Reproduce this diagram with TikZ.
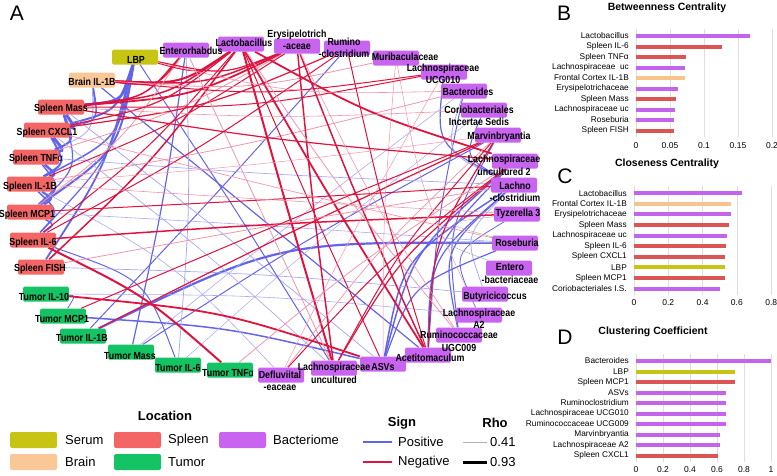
\documentclass[tikz,border=0pt]{standalone}
\usepackage{fontspec}
\setmainfont{Liberation Sans}
\newfontfamily\netfont[FakeStretch=0.86]{Liberation Sans}
\usetikzlibrary{calc,backgrounds}
\definecolor{serum}{RGB}{200,196,20}
\definecolor{brain}{RGB}{250,200,150}
\definecolor{spleen}{RGB}{244,102,102}
\definecolor{bacterio}{RGB}{200,100,240}
\definecolor{tumor}{RGB}{20,196,100}
\definecolor{posblue}{RGB}{100,100,235}
\definecolor{negred}{RGB}{222,20,64}
\definecolor{barred}{RGB}{220,85,85}
\definecolor{barpurple}{RGB}{196,100,236}
\definecolor{barpeach}{RGB}{248,196,140}
\definecolor{gridgray}{RGB}{222,222,222}
\begin{document}
\begin{tikzpicture}[
  x=1pt, y=-1pt,
  box/.style={rectangle, rounded corners=1.5pt, minimum width=46,
    minimum height=15, inner sep=0pt},
  lbl/.style={font={\netfont\bfseries\fontsize{10.3}{12.5}\selectfont},
    inner sep=0pt, align=center},
  poslink/.style={draw=posblue},
  neglink/.style={draw=negred},
  faintpos/.style={draw=posblue!55},
  faintneg/.style={draw=negred!45},
  greylink/.style={draw=black!30},
  barlab/.style={font={\fontsize{8.3}{10}\selectfont}, inner sep=0pt, anchor=east},
  ticklab/.style={font={\fontsize{8.5}{10}\selectfont}, inner sep=0pt},
  bartitle/.style={font={\bfseries\fontsize{10.5}{12}\selectfont}, inner sep=0pt},
  panelletter/.style={font={\fontsize{21}{24}\selectfont}, inner sep=0pt},
  hbar/.style={line width=4},
  gridrule/.style={draw=gridgray, line width=0.6},
  legtitle/.style={font={\bfseries\fontsize{13}{15}\selectfont}, inner sep=0pt},
  legtext/.style={font={\fontsize{13}{15}\selectfont}, inner sep=0pt, anchor=west},
  swatch/.style={rectangle, rounded corners=2pt, minimum width=47,
    minimum height=16, inner sep=0pt}
]
  \useasboundingbox (0,0) rectangle (777,475);
  \coordinate (ctr) at (265,210);
  % Panel letters
  \node[panelletter] at (17,13) {A};
  \node[panelletter] at (564,13) {B};
  \node[panelletter] at (565,176) {C};
  \node[panelletter] at (565,337) {D};

  % Network boxes
  \node[box, fill=serum] (lbp) at (135,57) {};
  \node[box, fill=brain] (brain) at (92,80) {};
  \node[box, fill=spleen] (smass) at (61,107) {};
  \node[box, fill=spleen] (scxcl) at (47,130) {};
  \node[box, fill=spleen] (stnf) at (36,157) {};
  \node[box, fill=spleen] (sil1b) at (30,184) {};
  \node[box, fill=spleen] (smcp) at (30,212) {};
  \node[box, fill=spleen] (sil6) at (33,240) {};
  \node[box, fill=spleen] (sfish) at (41,267) {};
  \node[box, fill=tumor] (til10) at (46,294) {};
  \node[box, fill=tumor] (tmcp) at (63,316) {};
  \node[box, fill=tumor] (til1b) at (83,336) {};
  \node[box, fill=tumor] (tmass) at (131,352) {};
  \node[box, fill=tumor] (til6) at (178,365) {};
  \node[box, fill=tumor] (ttnf) at (230,370) {};
  \node[box, fill=bacterio] (defl) at (281,375) {};
  \node[box, fill=bacterio] (lachunc) at (334,368) {};
  \node[box, fill=bacterio] (asvs) at (383,364) {};
  \node[box, fill=bacterio] (acet) at (428,355) {};
  \node[box, fill=bacterio] (rum009) at (459,335) {};
  \node[box, fill=bacterio] (lacha2) at (479,315) {};
  \node[box, fill=bacterio] (buty) at (485,294) {};
  \node[box, fill=bacterio] (entero) at (509,268) {};
  \node[box, fill=bacterio] (roseb) at (515,243) {};
  \node[box, fill=bacterio] (tyz) at (517,214) {};
  \node[box, fill=bacterio] (lachclos) at (514,185) {};
  \node[box, fill=bacterio] (lachunc2) at (515,161) {};
  \node[box, fill=bacterio] (marv) at (498,135) {};
  \node[box, fill=bacterio] (corio) at (484,110) {};
  \node[box, fill=bacterio] (bact) at (464,91) {};
  \node[box, fill=bacterio] (lach010) at (444,72) {};
  \node[box, fill=bacterio] (murib) at (396,58) {};
  \node[box, fill=bacterio] (rumclos) at (347,48) {};
  \node[box, fill=bacterio] (erys) at (297,46) {};
  \node[box, fill=bacterio] (lacto) at (241,44) {};
  \node[box, fill=bacterio] (entrh) at (186,50) {};

  % Network labels
  \node[lbl] at (136,60) {LBP};
  \node[lbl] at (92,82) {Brain IL-1B};
  \node[lbl] at (61,109) {Spleen Mass};
  \node[lbl] at (47,133) {Spleen CXCL1};
  \node[lbl] at (36,159) {Spleen TNF{\mdseries α}};
  \node[lbl] at (30,187) {Spleen IL-1B};
  \node[lbl] at (27,215) {Spleen MCP1};
  \node[lbl] at (33,243) {Spleen IL-6};
  \node[lbl] at (40,269) {Spleen FISH};
  \node[lbl] at (44,297) {Tumor IL-10};
  \node[lbl] at (62,319) {Tumor MCP1};
  \node[lbl] at (82,338) {Tumor IL-1B};
  \node[lbl] at (130,356) {Tumor Mass};
  \node[lbl] at (178,368) {Tumor IL-6};
  \node[lbl] at (228,373) {Tumor TNF{\mdseries α}};
  \node[lbl] at (280,381) {Defluviital\\-eaceae};
  \node[lbl] at (334,373.5) {Lachnospiraceae\\uncultured};
  \node[lbl] at (383,367) {ASVs};
  \node[lbl] at (430,358) {Acetitomaculum};
  \node[lbl] at (459,341.5) {Ruminococcaceae\\UGC009};
  \node[lbl] at (479,319) {Lachnospiraceae\\A2};
  \node[lbl] at (495,297) {Butyricicoccus};
  \node[lbl] at (510,273.5) {Entero\\-bacteriaceae};
  \node[lbl] at (517,243) {Roseburia};
  \node[lbl] at (518,214) {Tyzerella 3};
  \node[lbl] at (515,192) {Lachno\\-clostridium};
  \node[lbl] at (504,165.5) {Lachnospiraceae\\uncultured 2};
  \node[lbl] at (499,137) {Marvinbryantia};
  \node[lbl] at (479,116) {Coriobacteriales\\Incertae Sedis};
  \node[lbl] at (468,92) {Bacteroides};
  \node[lbl] at (443,74) {Lachnospiraceae\\UCG010};
  \node[lbl] at (405,57) {Muribaculaceae};
  \node[lbl] at (344,48) {Rumino\\-clostridium};
  \node[lbl] at (297,40) {Erysipelotrich\\-aceae};
  \node[lbl] at (244,43) {Lactobacillus};
  \node[lbl] at (191,51) {Enterorhabdus};

  % Network edges: from/to/sign/width/pull to centre
  \begin{scope}[on background layer]
    \foreach \a/\b/\s/\w/\k in {
      lbp/smass/poslink/2.5/0.15, lbp/scxcl/poslink/2/0.15,
      lbp/sil1b/poslink/1.5/0.2, lbp/smcp/poslink/2/0.2,
      lbp/sfish/poslink/1.8/0.1, lbp/sil6/poslink/1.2/0.15,
      brain/smass/poslink/1.2/0.1, brain/scxcl/poslink/1.5/0.15,
      brain/stnf/faintpos/0.8/0.15, smass/scxcl/poslink/3/0.1,
      scxcl/stnf/poslink/3/0.1, stnf/sil1b/poslink/2.5/0.1,
      sil1b/smcp/poslink/2/0.1, smcp/sil6/poslink/1.5/0.1,
      scxcl/sil1b/poslink/2/0.12, smass/stnf/poslink/2/0.12,
      stnf/smcp/poslink/1.5/0.12, sil1b/sil6/poslink/1.5/0.12,
      sil6/sfish/poslink/1/0.1, smass/smcp/poslink/1.2/0.15,
      til10/tmcp/poslink/0.8/0.1, til6/sil6/poslink/1/0.25,
      tmass/entrh/poslink/1.2/0.05, tmass/marv/poslink/1/0.15,
      tmcp/asvs/poslink/1.5/0.1, roseb/til1b/poslink/2.2/0.6,
      rumclos/til1b/poslink/1/0.05, bact/acet/poslink/1/0.05,
      lachclos/asvs/poslink/1.5/0.25, lachclos/rum009/poslink/1.2/0.2,
      lachunc2/asvs/poslink/1.5/0.2, lachunc2/acet/poslink/1.2/0.2,
      tyz/lacha2/poslink/0.8/0.2, lachclos/acet/poslink/1.2/0.2,
      marv/rum009/poslink/1/0.15, corio/lachclos/poslink/1/0.15,
      lach010/lachclos/poslink/1.2/0.2, bact/lachclos/faintpos/0.8/0.2,
      buty/lachclos/faintpos/0.8/0.15, roseb/asvs/poslink/1.2/0.2,
      brain/acet/poslink/1.2/0.05, smass/asvs/faintpos/0.8/0.05,
      scxcl/lachunc/faintpos/0.7/0.1, stnf/lachclos/faintpos/0.7/0.1,
      smcp/roseb/faintpos/0.6/0.1, sfish/buty/faintpos/0.7/0.1,
      til10/lacha2/faintpos/0.6/0.1, corio/til6/faintpos/0.5/0.1,
      bact/tmass/faintpos/0.6/0.1, sil1b/defl/faintpos/0.6/0.2,
      lbp/lachunc/poslink/1/0.1, entrh/til6/faintpos/0.8/0.1,
      lacto/brain/neglink/2/0.15, lacto/smass/neglink/1.5/0.15,
      lacto/scxcl/neglink/1.2/0.15, lacto/sil6/neglink/1/0.1,
      lacto/sfish/neglink/1.5/0.1, erys/brain/neglink/1.5/0.15,
      erys/smass/neglink/1.8/0.15, erys/stnf/faintneg/0.8/0.1,
      erys/sil1b/neglink/1/0.1, entrh/brain/neglink/1.2/0.15,
      entrh/smass/neglink/1.5/0.15, entrh/smcp/faintneg/0.8/0.1,
      lbp/erys/neglink/1.2/0.15, lbp/lacto/neglink/1/0.15,
      murib/brain/faintneg/0.8/0.15, lach010/smass/neglink/1/0.15,
      bact/sil1b/faintneg/0.8/0.1, lach010/brain/neglink/1/0.15,
      rumclos/sil6/neglink/1/0.1, rumclos/scxcl/neglink/1.2/0.15,
      sil6/ttnf/neglink/2/0.1, til10/asvs/neglink/1.8/0.15,
      til1b/marv/neglink/1.2/0.1, lacto/lachunc/neglink/2/0.05,
      erys/lachunc/neglink/1.5/0.05, lacto/asvs/neglink/1/0.05,
      entrh/lachunc/faintneg/0.8/0.05, erys/acet/neglink/1.5/0.05,
      lacto/acet/neglink/1.8/0.05, lacto/lachunc2/neglink/1.8/0.1,
      defl/lachunc2/neglink/1/0.1, defl/marv/faintneg/0.7/0.1,
      tyz/sil6/neglink/1.5/0.2, lachclos/smcp/neglink/1/0.1,
      marv/acet/neglink/1.2/0.15, marv/lachunc/neglink/1/0.1,
      lachunc2/lachunc/neglink/1.2/0.15, lachunc2/ttnf/faintneg/0.8/0.1,
      scxcl/roseb/faintneg/0.7/0.1, sil1b/tyz/faintneg/0.6/0.1,
      rum009/lacto/faintneg/0.8/0.1, acet/rumclos/neglink/1/0.05,
      murib/asvs/faintneg/0.5/0.05, lach010/defl/faintneg/0.5/0.05,
      corio/smass/faintneg/0.6/0.1, marv/sil1b/faintneg/0.5/0.1,
      smass/lachunc2/neglink/1.2/0.1, sfish/lachclos/faintneg/0.8/0.1,
      tmcp/marv/neglink/1/0.1, rum009/erys/faintneg/0.6/0.1,
      bact/lbp/faintneg/0.6/0.15, murib/lacha2/faintneg/0.5/0.1,
      roseb/tyz/greylink/0.5/0.3, roseb/entero/greylink/0.5/0.3}
      \draw[\s, line width=\w] (\a) .. controls ($(\a)!0.5!(\b)!\k!(ctr)$) .. (\b);
  \end{scope}

  % Legend
  \node[legtitle] at (165,416) {Location};
  \node[swatch, fill=serum] (swserum) at (33.5,440) {};
  \node[legtext] at (65,440) {Serum};
  \node[swatch, fill=spleen] (swspleen) at (137.5,440) {};
  \node[legtext] at (168,440) {Spleen};
  \node[swatch, fill=bacterio] (swbact) at (242.5,440) {};
  \node[legtext] at (273,440) {Bacteriome};
  \node[swatch, fill=brain] (swbrain) at (33.5,462) {};
  \node[legtext] at (65,462) {Brain};
  \node[swatch, fill=tumor] (swtumor) at (137.5,462) {};
  \node[legtext] at (168,462) {Tumor};

  \node[legtitle] at (402,423) {Sign};
  \node[legtext] (postext) at (398,442) {Positive};
  \node[legtext] (negtext) at (398,462) {Negative};
  \coordinate (posend) at (392,442);
  \coordinate (negend) at (392,462);
  \draw[poslink, line width=2.5] (363,442) -- (posend);
  \draw[neglink, line width=2.5] (363,462) -- (negend);

  \node[legtitle] at (495,423) {Rho};
  \node[legtext] (lotext) at (490,442) {0.41};
  \node[legtext] (hitext) at (490,462) {0.93};
  \coordinate (loend) at (487,442);
  \coordinate (hiend) at (487,462);
  \draw[greylink, line width=0.7] (463,442) -- (loend);
  \draw[black, line width=3] (463,462) -- (hiend);

  % B: betweenness
  \node[bartitle] at (667,8) {Betweenness Centrality};
  \foreach \t in {0,0.05,0.1,0.15,0.2} {
    \draw[gridrule] ({636+680*\t},29) -- ({636+680*\t},137);
    \node[ticklab] at ({636+680*\t},146) {\t};
  }
  \foreach \lab/\val/\col [count=\i, evaluate=\i as \y using 25.5+10.5*\i] in {
    Lactobacillus/0.167/barpurple, Spleen IL-6/0.127/barred,
    Spleen TNFα/0.073/barred, Lachnospiraceae\ \ uc/0.072/barpurple,
    Frontal Cortex IL-1B/0.072/barpeach, Erysipelotrichaceae/0.062/barpurple,
    Spleen Mass/0.059/barred, Lachnospiraceae uc/0.058/barpurple,
    Roseburia/0.056/barpurple, Spleen FISH/0.056/barred} {
    \node[barlab] at (629,\y) {\lab};
    \draw[hbar, draw=\col] (636,\y) -- ({636+680*\val},\y);
  }

  % C: closeness
  \node[bartitle] at (667,164) {Closeness Centrality};
  \foreach \t in {0,0.2,0.4,0.6,0.8} {
    \draw[gridrule] ({634+171.5*\t},186) -- ({634+171.5*\t},295);
    \node[ticklab] at ({634+171.5*\t},303) {\t};
  }
  \foreach \lab/\val/\col [count=\i, evaluate=\i as \y using 182.5+10.6*\i] in {
    Lactobacillus/0.63/barpurple, Frontal Cortex IL-1B/0.565/barpeach,
    Erysipelotrichaceae/0.565/barpurple, Spleen Mass/0.555/barred,
    Lachnospiraceae uc/0.545/barpurple, Spleen IL-6/0.535/barred,
    Spleen CXCL1/0.53/barred, LBP/0.53/serum,
    Spleen MCP1/0.53/barred, Coriobacteriales I.S./0.5/barpurple} {
    \node[barlab] at (627,\y) {\lab};
    \draw[hbar, draw=\col] (634,\y) -- ({634+171.5*\val},\y);
  }

  % D: clustering
  \node[bartitle] at (653,332) {Clustering Coefficient};
  \foreach \t in {0,0.2,0.4,0.6,0.8,1} {
    \draw[gridrule] ({636+135*\t},354) -- ({636+135*\t},462);
    \node[ticklab] at ({636+135*\t},470) {\t};
  }
  \foreach \lab/\val/\col [count=\i, evaluate=\i as \y using 350.5+10.5*\i] in {
    Bacteroides/1.0/barpurple, LBP/0.73/serum, Spleen MCP1/0.73/barred,
    ASVs/0.67/barpurple, Ruminoclostridium/0.67/barpurple,
    Lachnospiraceae UCG010/0.67/barpurple, Ruminococcaceae UCG009/0.67/barpurple,
    Marvinbryantia/0.62/barpurple, Lachnospiraceae A2/0.62/barpurple,
    Spleen CXCL1/0.61/barred} {
    \node[barlab] at (629,\y) {\lab};
    \draw[hbar, draw=\col] (636,\y) -- ({636+135*\val},\y);
  }
\end{tikzpicture}
\end{document}
